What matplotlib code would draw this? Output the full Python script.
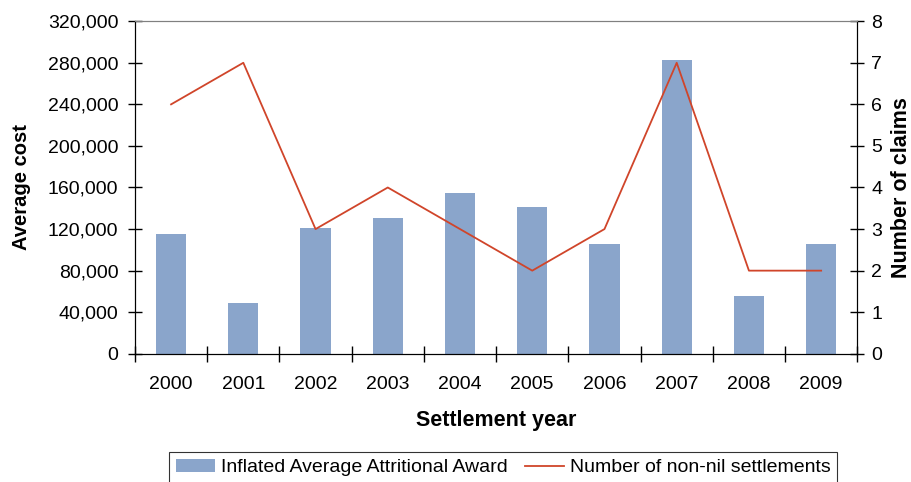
import numpy
import matplotlib

matplotlib.use("AGG")
from matplotlib import pyplot
from matplotlib.ticker import FuncFormatter, MultipleLocator

years = ["2000", "2001", "2002", "2003", "2004", "2005", "2006", "2007", "2008", "2009"]
avg_award = [115000, 49000, 121000, 131000, 155000, 141000, 106000, 283000, 56000, 106000]
n_settlements = [6, 7, 3, 4, 3, 2, 3, 7, 2, 2]

pyplot.rcParams["font.family"] = ["Liberation Sans", "DejaVu Sans"]

f = pyplot.figure(figsize=(9.12, 4.82), dpi=100)
ax = f.add_axes([0.148, 0.266, 0.792, 0.690])
ax2 = ax.twinx()

x = numpy.arange(len(years))
bars = ax.bar(x, avg_award, width=0.42, color="#8aa5cb", label="Inflated Average Attritional Award", zorder=2)
line, = ax2.plot(x, n_settlements, color="#d0452a", linewidth=1.3, label="Number of non-nil settlements")

ax.set_xlim(-0.5, len(years) - 0.5)
ax.set_ylim(0, 320000)
ax2.set_ylim(0, 8)
ax.yaxis.set_major_locator(MultipleLocator(40000))
ax.yaxis.set_major_formatter(FuncFormatter(lambda v, p: f"{int(v):,}"))
ax2.yaxis.set_major_locator(MultipleLocator(1))

ax.set_xticks(x)
ax.set_xticklabels(years)
ax.set_xticks(numpy.arange(-0.5, len(years)), minor=True)
ax.tick_params(axis="x", which="major", length=0, pad=16, labelsize=14)
ax.tick_params(axis="x", which="minor", direction="inout", length=12, width=1)
ax.tick_params(axis="y", direction="inout", length=10, width=1, labelsize=14, pad=7)
ax2.tick_params(axis="y", direction="inout", length=10, width=1, labelsize=14, pad=5)

for a in (ax, ax2):
    a.spines["top"].set_color("#808080")
    a.spines["left"].set_color("black")
    a.spines["right"].set_color("black")
    a.spines["bottom"].set_color("black")

ax.set_xlabel("Settlement year", fontsize=15.5, fontweight="bold", labelpad=12)
ax.set_ylabel("Average cost", fontsize=14.5, fontweight="bold", labelpad=12)
ax2.set_ylabel("Number of claims", fontsize=15.5, fontweight="bold", labelpad=6)

leg = f.legend([bars, line], [bars.get_label(), line.get_label()], loc="center",
               bbox_to_anchor=(0.552, 0.03), ncol=2, fontsize=14, frameon=True,
               fancybox=False, edgecolor="black", handlelength=2.0, columnspacing=0.9,
               handletextpad=0.3, borderpad=0.35)
leg.get_frame().set_linewidth(0.8)

f.savefig("out.png", dpi=100)
pyplot.close()
